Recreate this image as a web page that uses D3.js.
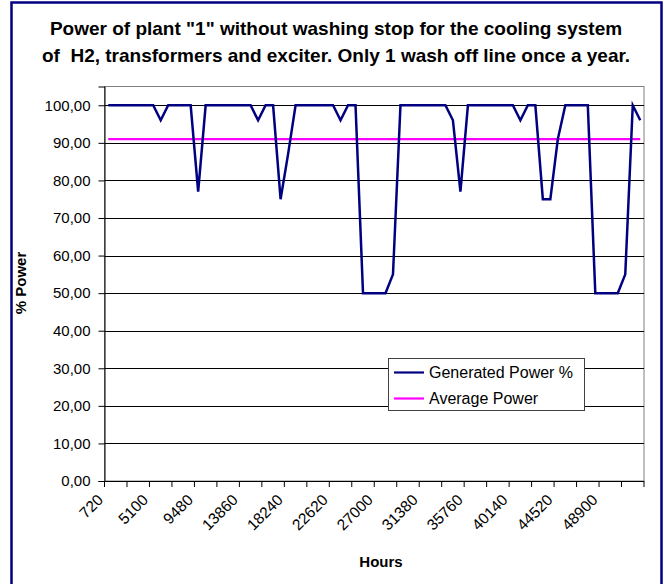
<!DOCTYPE html>
<html><head><meta charset="utf-8">
<script src="https://cdn.jsdelivr.net/npm/d3@7"></script>
<style>body{margin:0;background:#fff}svg{display:block}text{font-family:"Liberation Sans",Arial,sans-serif;white-space:pre}</style>
</head><body><svg id="c" width="664" height="584"></svg>
<script>
const hours = [720,1450,2180,2910,3640,4370,5100,5830,6560,7290,8020,8750,9480,10210,10940,11670,12400,13130,13860,14590,15320,16050,16780,17510,18240,18970,19700,20430,21160,21890,22620,23350,24080,24810,25540,26270,27000,27730,28460,29190,29920,30650,31380,32110,32840,33570,34300,35030,35760,36490,37220,37950,38680,39410,40140,40870,41600,42330,43060,43790,44520,45250,45980,46710,47440,48170,48900,49630,50360,51090,51820,52550];
const generatedPower = [100,100,100,100,100,100,100,96,100,100,100,100,77,100,100,100,100,100,100,100,96,100,100,75,87,100,100,100,100,100,100,96,100,100,50,50,50,50,55,100,100,100,100,100,100,100,96,77,100,100,100,100,100,100,100,96,100,100,75,75,91,100,100,100,100,50,50,50,50,55,100,96];
const averagePower = 91.0;
const yTicks = [0,10,20,30,40,50,60,70,80,90,100];
const labelHours = [720,5100,9480,13860,18240,22620,27000,31380,35760,40140,44520,48900];
const titleLines = ['Power of plant "1" without washing stop for the cooling system', 'of  H2, transformers and exciter. Only 1 wash off line once a year.'];
const seriesNames = ["Generated Power %", "Average Power"];

const svg = d3.select("#c");
const L = 104.5, R = 644, T = 86.5, B = 481;
const x = d3.scaleBand().domain(hours).range([L, R]).paddingInner(0).paddingOuter(0);
const cx = h => x(h) + x.bandwidth() / 2;
const y = d3.scaleLinear().domain([0, 105]).range([B, T]);

// frame
svg.append("rect").attr("x", 11.5).attr("y", 2.5).attr("width", 650).attr("height", 620)
  .attr("fill", "#fff").attr("stroke", "#000080").attr("stroke-width", 2.5);

// title
svg.append("text").attr("x", 336).attr("y", 35).attr("text-anchor", "middle").attr("xml:space", "preserve")
  .attr("font-size", 19).attr("font-weight", "bold").text(titleLines[0]);
svg.append("text").attr("x", 336).attr("y", 62).attr("text-anchor", "middle").attr("xml:space", "preserve")
  .attr("font-size", 19).attr("font-weight", "bold").text(titleLines[1]);

// plot area border
svg.append("rect").attr("x", L).attr("y", T).attr("width", R - L).attr("height", B - T)
  .attr("fill", "#fff").attr("stroke", "#808080").attr("stroke-width", 1);

// gridlines
svg.append("g").selectAll("line").data(yTicks.filter(d => d > 0)).join("line")
  .attr("x1", L).attr("x2", R).attr("y1", d => Math.round(y(d)) + 0.5).attr("y2", d => Math.round(y(d)) + 0.5)
  .attr("stroke", "#000").attr("stroke-width", 1);

// y axis
const yAxis = d3.axisLeft(y).tickValues(yTicks).tickSize(6).tickPadding(8)
  .tickFormat(d => d3.format(".2f")(d).replace(".", ","));
const gy = svg.append("g").attr("transform", `translate(${L},0)`).call(yAxis);
gy.select(".domain").attr("stroke", "#000");
gy.selectAll(".tick line").attr("stroke", "#000");
gy.selectAll(".tick text").attr("font-size", 15).attr("fill", "#000").attr("font-family", '"Liberation Sans",Arial,sans-serif');

// x axis: ticks every 3 categories at boundaries
const tickPos = hours.filter((h, i) => i % 3 === 0).map(h => x(h)).concat([R]);
const gx = svg.append("g");
gx.append("line").attr("x1", L).attr("x2", R).attr("y1", B + 0.5).attr("y2", B + 0.5).attr("stroke", "#000");
gx.selectAll("line.t").data(tickPos).join("line").attr("class", "t")
  .attr("x1", d => d).attr("x2", d => d).attr("y1", B).attr("y2", B + 6).attr("stroke", "#000");
gx.selectAll("text").data(labelHours).join("text")
  .attr("transform", d => `translate(${cx(d) - 8},${B + 16}) rotate(-45)`)
  .attr("text-anchor", "end").attr("dy", "0.35em").attr("font-size", 15.5).text(d => d);

// axis titles
svg.append("text").attr("x", 381).attr("y", 567).attr("text-anchor", "middle")
  .attr("font-size", 15).attr("font-weight", "bold").text("Hours");
svg.append("text").attr("transform", "translate(26,283) rotate(-90)").attr("text-anchor", "middle")
  .attr("font-size", 15).attr("font-weight", "bold").text("% Power");

// average line
svg.append("path").datum(hours).attr("fill", "none").attr("stroke", "#ff00ff").attr("stroke-width", 2.2)
  .attr("d", d3.line().x(h => cx(h)).y(() => y(averagePower)));

// data line
svg.append("path").datum(generatedPower).attr("fill", "none").attr("stroke", "#000080").attr("stroke-width", 2.5)
  .attr("stroke-linejoin", "miter")
  .attr("d", d3.line().x((d, i) => cx(hours[i])).y(d => y(d)));

// legend
const lg = svg.append("g");
lg.append("rect").attr("x", 388.5).attr("y", 358.5).attr("width", 196).attr("height", 52)
  .attr("fill", "#fff").attr("stroke", "#404040").attr("stroke-width", 1);
const colors = ["#000080", "#ff00ff"];
seriesNames.forEach((n, i) => {
  const yy = 372.5 + i * 26;
  lg.append("line").attr("x1", 394).attr("x2", 424).attr("y1", yy).attr("y2", yy)
    .attr("stroke", colors[i]).attr("stroke-width", 2.2);
  lg.append("text").attr("x", 429).attr("y", yy).attr("dy", "0.35em").attr("font-size", 16).text(n);
});
</script></body></html>
